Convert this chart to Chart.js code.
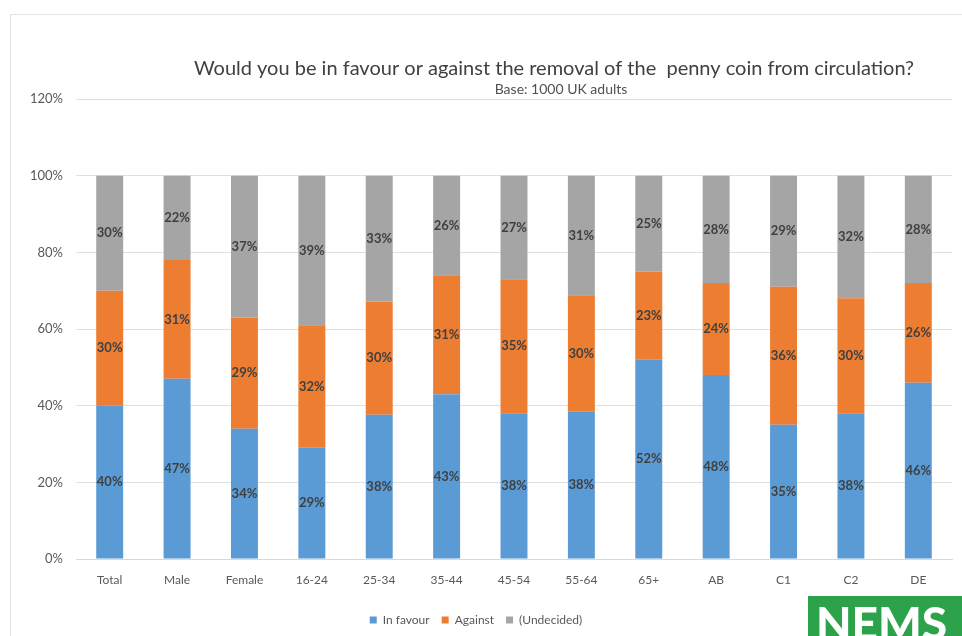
<!DOCTYPE html>
<html>
<head>
<meta charset="utf-8">
<script src="https://cdn.jsdelivr.net/npm/chart.js@4.4.1/dist/chart.umd.min.js"></script>
<style>
  html, body { margin: 0; padding: 0; background: #fff; }
  #wrap { width: 962px; height: 636px; position: relative; }
</style>
</head>
<body>
<div id="wrap"><canvas id="chart"></canvas></div>
<script>
// ---------------- Data ----------------
const categories = ["Total", "Male", "Female", "16-24", "25-34", "35-44", "45-54", "55-64", "65+", "AB", "C1", "C2", "DE"];
const inFavour  = [40, 47, 34, 29, 37.6, 43, 38, 38.4, 52, 48, 35, 38, 46];
const against   = [30, 31, 29, 32, 29.6, 31, 35, 30.4, 23, 24, 36, 30, 26];
const undecided = [30, 22, 37, 39, 32.8, 26, 27, 31.2, 25, 28, 29, 32, 28];
const seriesNames = ["In favour", "Against", "(Undecided)"];
const yTicks = [0, 20, 40, 60, 80, 100, 120];

const titleText = "Would you be in favour or against the removal of the  penny coin from circulation?";
const subtitleText = "Base: 1000 UK adults";
const FONT = "Lato, 'Open Sans', sans-serif";

// ---------------- Plugins ----------------
const frameAndTitle = {
  id: "frameAndTitle",
  beforeDraw(chart) {
    const ctx = chart.ctx;
    ctx.save();
    ctx.fillStyle = "#fff";
    ctx.fillRect(0, 0, chart.width, chart.height);
    ctx.strokeStyle = "#e3e3e3";
    ctx.lineWidth = 1;
    ctx.strokeRect(10.5, 14.5, chart.width, chart.height);
    ctx.restore();
  },
  afterDraw(chart) {
    const ctx = chart.ctx;
    ctx.save();
    ctx.textAlign = "center";
    ctx.textBaseline = "middle";
    ctx.fillStyle = "#404040";
    ctx.font = "20px " + FONT;
    ctx.fillText(titleText, 554, 69);
    ctx.fillStyle = "#505050";
    ctx.font = "14px " + FONT;
    ctx.fillText(subtitleText, 561, 89);

    // NEMS logo
    ctx.fillStyle = "#2ca24a";
    ctx.fillRect(808, 596, 154, 40);
    ctx.fillStyle = "#fff";
    ctx.font = "900 46px " + FONT;
    ctx.textAlign = "left";
    ctx.textBaseline = "alphabetic";
    ctx.fillText("NEMS", 816, 640);
    ctx.restore();
  }
};

const barLabels = {
  id: "barLabels",
  afterDatasetsDraw(chart) {
    const ctx = chart.ctx;
    ctx.save();
    ctx.font = "bold 13px " + FONT;
    ctx.fillStyle = "#404040";
    ctx.textAlign = "center";
    ctx.textBaseline = "middle";
    chart.data.datasets.forEach((ds, i) => {
      chart.getDatasetMeta(i).data.forEach((bar, j) => {
        const p = bar.getProps(["x", "y", "base"], true);
        ctx.fillText(Math.round(ds.data[j]) + "%", p.x, (p.y + p.base) / 2);
      });
    });
    ctx.restore();
  }
};

// ---------------- Chart ----------------
const ctx = document.getElementById("chart").getContext("2d");
new Chart(ctx, {
  type: "bar",
  data: {
    labels: categories,
    datasets: [
      { label: seriesNames[0], data: inFavour,  backgroundColor: "#5b9bd5" },
      { label: seriesNames[1], data: against,   backgroundColor: "#ed7d31" },
      { label: seriesNames[2], data: undecided, backgroundColor: "#a5a5a5" }
    ]
  },
  options: {
    responsive: true,
    maintainAspectRatio: false,
    animation: false,
    layout: { padding: { top: 99, right: 10, bottom: 0, left: 0 } },
    datasets: { bar: { categoryPercentage: 0.8, barPercentage: 0.5 } },
    scales: {
      x: {
        stacked: true,
        grid: { display: false },
        border: { color: "#d9d9d9" },
        afterFit: s => { s.height = 43; },
        ticks: { color: "#595959", font: { family: FONT, size: 12 }, padding: 6, maxRotation: 0 }
      },
      y: {
        stacked: true,
        min: 0,
        max: 120,
        afterBuildTicks: s => { s.ticks = yTicks.map(v => ({ value: v })); },
        afterFit: s => { s.width = 76; },
        grid: { color: "#e0e0e0", drawTicks: false },
        border: { display: false },
        ticks: { color: "#595959", font: { family: FONT, size: 13 }, padding: 13, callback: v => v + "%" }
      }
    },
    plugins: {
      title: { display: false },
      tooltip: { enabled: false },
      legend: {
        position: "bottom",
        labels: { color: "#595959", font: { family: FONT, size: 12 }, boxWidth: 7, boxHeight: 7, padding: 12 }
      }
    }
  },
  plugins: [frameAndTitle, barLabels]
});
</script>
</body>
</html>
